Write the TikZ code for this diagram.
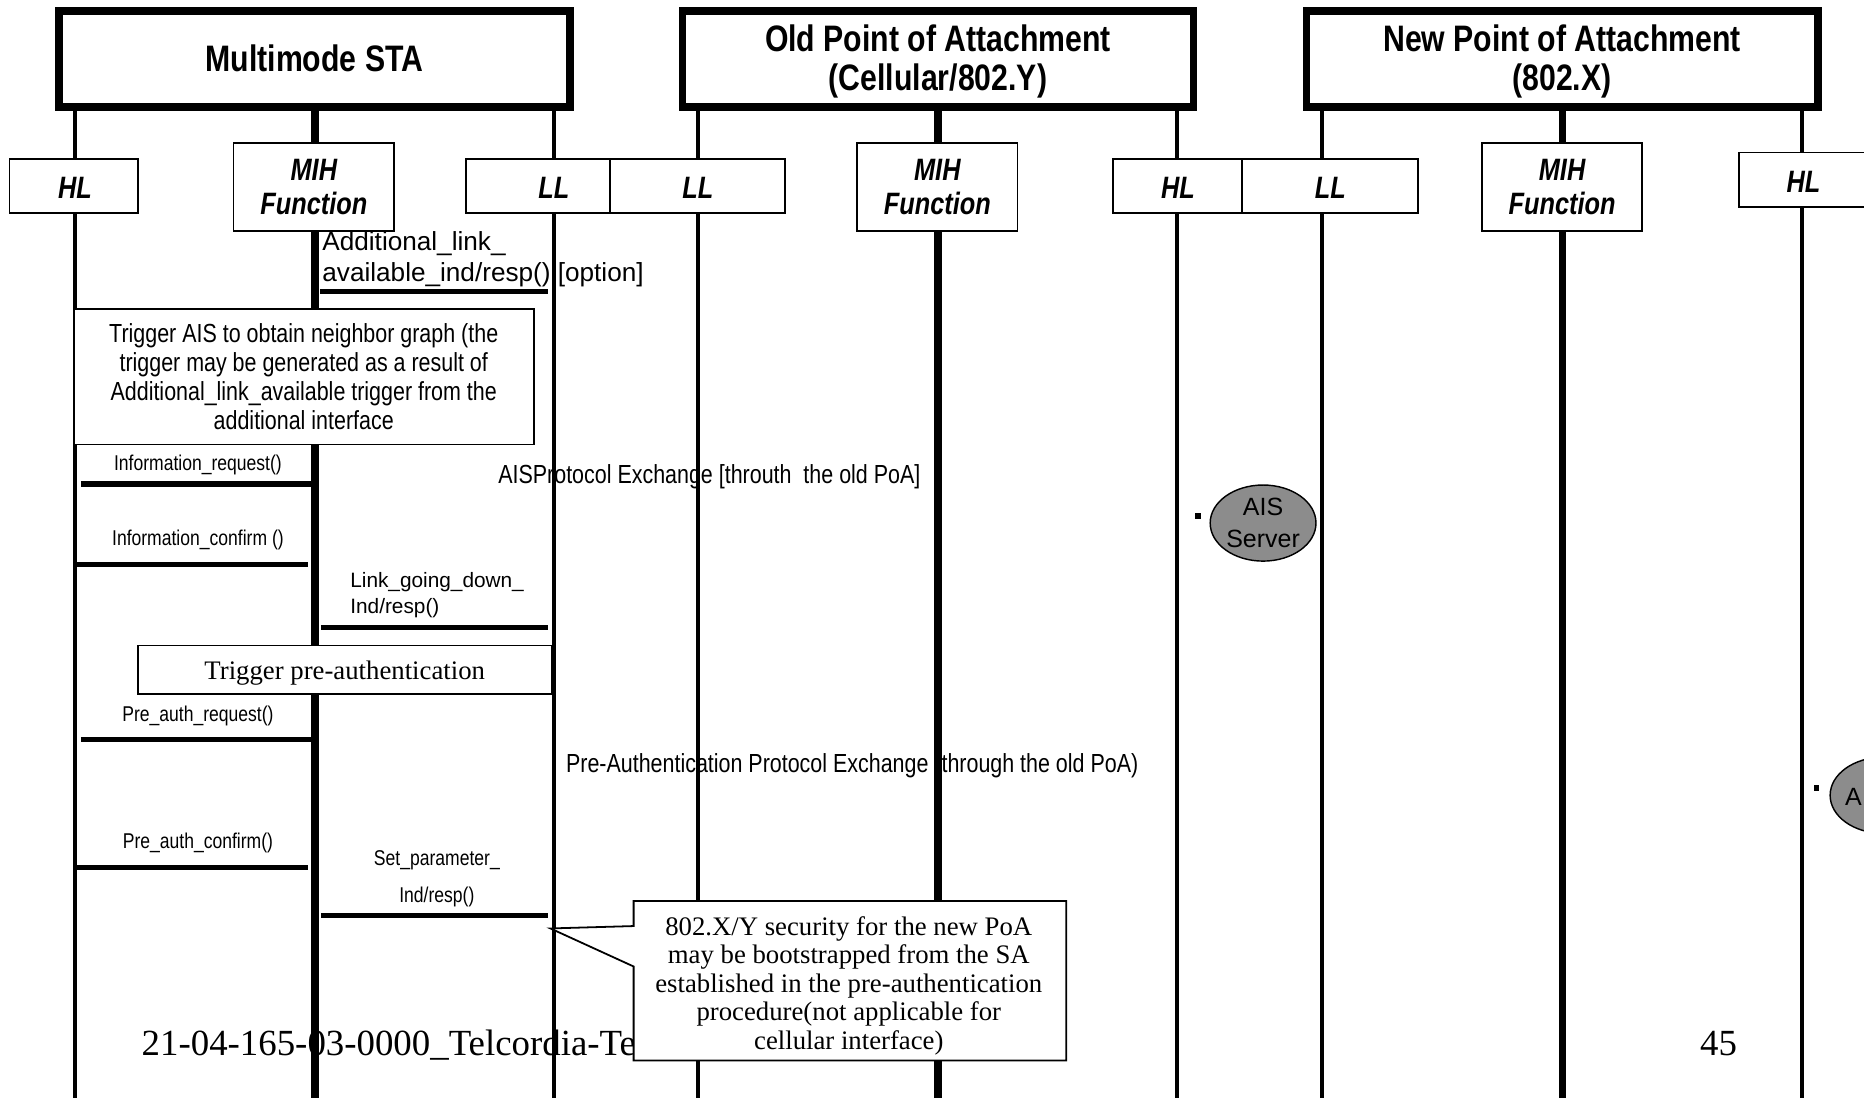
\documentclass[tikz,border=0pt]{standalone}
\usepackage{fontspec}
\setmainfont{Liberation Serif}
\newfontfamily\arialfont{Liberation Sans}
\newfontfamily\narrowfont[FakeStretch=0.82]{Liberation Sans}
\usetikzlibrary{shapes.geometric}
\colorlet{srvgray}{black!45}

\tikzset{
  entity/.style={draw,line width=6.5pt,fill=white,inner sep=0pt,
    minimum width=430pt,minimum height=81pt},
  entitytext/.style={inner sep=0pt,align=center,
    font=\narrowfont\bfseries\fontsize{31}{33}\selectfont},
  lifebox/.style={draw,line width=1.5pt,fill=white,inner sep=0pt,
    minimum height=45pt,align=center,
    font=\narrowfont\bfseries\itshape\fontsize{26}{28.5}\selectfont},
  lifetext/.style={inner sep=0pt,
    font=\narrowfont\bfseries\itshape\fontsize{26}{28}\selectfont},
  thinlife/.style={line width=3.5pt},
  thicklife/.style={line width=6pt},
  msg/.style={line width=4.5pt},
  msgtext/.style={inner sep=0pt,align=center,
    font=\narrowfont\fontsize{18}{31}\selectfont},
  armtext/.style={inner sep=0pt,align=left,
    font=\arialfont\fontsize{22}{26.5}\selectfont},
  xchtext/.style={inner sep=0pt,
    font=\narrowfont\fontsize{22}{24}\selectfont},
  notebox/.style={draw,line width=1.5pt,fill=white,inner sep=0pt,align=center,
    font=\narrowfont\fontsize{22}{24.5}\selectfont},
  server/.style={ellipse,draw,line width=1.2pt,fill=srvgray,inner sep=0pt,
    minimum width=89pt,minimum height=64pt,align=center,
    font=\arialfont\fontsize{21}{26.5}\selectfont},
  dot/.style={rectangle,fill=black,inner sep=0pt,minimum size=5pt}
}

\begin{document}
\begin{tikzpicture}[x=1pt,y=-1pt]
  \useasboundingbox (0,0) rectangle (1568,923);
  % Background
  \fill[white] (0,0) rectangle (1568,923);
  % Texts under the lines
  \node[anchor=base west,inner sep=0pt,font=\fontsize{31}{33}\selectfont]
    (foot) at (119,888) {21-04-165-03-0000\_Telcordia-Te};
  \node[anchor=base west,inner sep=0pt,font=\fontsize{31}{33}\selectfont]
    (page) at (1430,888) {45};
  \node[xchtext,anchor=west] (aisx) at (419,401)
    {AISProtocol Exchange [throuth\ \ the old PoA]};
  \node[xchtext,anchor=west] (prex) at (476,644)
    {Pre-Authentication Protocol Exchange (through the old PoA)};
  \node[armtext,anchor=west] (addtxt) at (271,218)
    {Additional\_link\_\\available\_ind/resp() [option]};
  \node[armtext,anchor=west,font=\arialfont\fontsize{17.5}{22}\selectfont]
    (lgdtxt) at (294.5,500.5) {Link\_going\_down\_\\Ind/resp()};
  \node[msgtext] (ireqtxt) at (166.5,391.5) {Information\_request()};
  \node[msgtext] (iconftxt) at (166.5,454) {Information\_confirm ()};
  \node[msgtext] (prqtxt) at (166.5,602) {Pre\_auth\_request()};
  \node[msgtext] (pcftxt) at (166.5,709.5) {Pre\_auth\_confirm()};
  \node[msgtext] (setptxt) at (367.5,739.5) {Set\_parameter\_\\Ind/resp()};
  % Lifelines
  \foreach \nm/\x/\sty in {hlS/63/thinlife, mihS/265/thicklife, llS/466/thinlife,
      llO/587/thinlife, mihO/789/thicklife, hlO/990/thinlife,
      llN/1112/thinlife, mihN/1314/thicklife, hlN/1516/thinlife} {
    \coordinate (\nm top) at (\x,89);
    \coordinate (\nm bot) at (\x,930);
    \draw[\sty] (\nm top) -- (\nm bot);
  }
  % Entities
  \node[entity] (sta) at (264.5,49.5) {};
  \node[entitytext] (statxt) at (264.5,49) {Multimode STA};
  \node[entity] (oldpoa) at (789,49.5) {};
  \node[entitytext] (oldtxt) at (789,51.5) {Old Point of Attachment\\(Cellular/802.Y)};
  \node[entity] (newpoa) at (1314,49.5) {};
  \node[entitytext] (newtxt) at (1314,51.5) {New Point of Attachment\\(802.X)};
  \node[lifebox,minimum width=108pt] (hlSbox) at (62,156.5) {};
  \node[lifetext] (hlStxt) at (63,158) {HL};
  \node[lifebox,minimum width=135pt,minimum height=74pt] (mihSbox) at (264,157)
    {MIH\\Function};
  \node[lifebox,minimum width=121pt] (llSbox) at (452.5,156.5) {};
  \node[lifetext] (llStxt) at (466,158) {LL};
  \node[lifebox,minimum width=147pt] (llObox) at (587,156.5) {};
  \node[lifetext] (llOtxt) at (587,158) {LL};
  \node[lifebox,minimum width=135pt,minimum height=74pt] (mihObox) at (788.5,157)
    {MIH\\Function};
  \node[lifebox,minimum width=108.5pt] (hlObox) at (990.5,156.5) {};
  \node[lifetext] (hlOtxt) at (991,158) {HL};
  \node[lifebox,minimum width=147.5pt] (llNbox) at (1119,156.5) {};
  \node[lifetext] (llNtxt) at (1119,158) {LL};
  \node[lifebox,minimum width=135pt,minimum height=74pt] (mihNbox) at (1314,157)
    {MIH\\Function};
  \node[lifebox,minimum width=108pt,minimum height=46pt] (hlNbox) at (1517,151.3) {};
  \node[lifetext] (hlNtxt) at (1517,153) {HL};
  % Messages
  \foreach \nm/\xa/\xb/\yy in {add/269/461/245, ireq/68/262/407, iconf/63/259/475,
      lgd/270/461/528, prq/68/262/622, pcf/63/259/730, setp/270/461/770} {
    \coordinate (\nm A) at (\xa,\yy);
    \coordinate (\nm B) at (\xb,\yy);
    \draw[msg] (\nm A) -- (\nm B);
  }
  % Notes
  \node[notebox,minimum width=387pt,minimum height=114pt] (aisnote) at (255.5,317)
    {Trigger AIS to obtain neighbor graph (the\\trigger may be generated as a result of\\
     Additional\_link\_available trigger from the\\additional interface};
  \node[notebox,minimum width=348pt,minimum height=41pt] (pretrig) at (290,563.5) {};
  \node[inner sep=0pt,font=\fontsize{22.5}{24}\selectfont] (pretrigtxt)
    at (290,566) {Trigger pre-authentication};
  \coordinate (tip) at (463,781);
  \draw[line width=1.5pt,fill=white] (533,758) -- (897,758) -- (897,892)
    -- (533,892) -- (533,813) -- (tip) -- (533,779) -- cycle;
  \node[inner sep=0pt,align=center,font=\fontsize{22.5}{24}\selectfont] (sec)
    at (714,829) {802.X/Y security for the new PoA\\may be bootstrapped from the SA\\
     established in the pre-authentication\\procedure(not applicable for\\
     cellular interface)};
  % Servers
  \node[dot] (aisdot) at (1008,434) {};
  \node[server] (ais) at (1062.5,440) {AIS\\Server};
  \node[dot] (aaadot) at (1528,662.5) {};
  \node[server] (aaa) at (1584,669) {};
  \node[armtext,anchor=west,font=\arialfont\fontsize{21}{26}\selectfont]
    (aaatxt) at (1552,670) {A};
\end{tikzpicture}
\end{document}
